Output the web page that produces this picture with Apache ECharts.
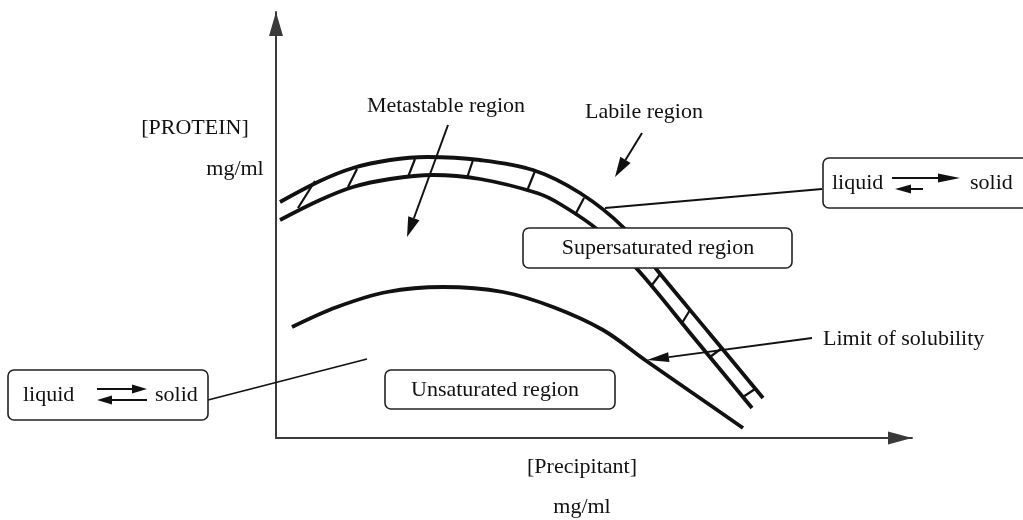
<!DOCTYPE html>
<html><head><meta charset="utf-8">
<script src="https://cdn.jsdelivr.net/npm/echarts@6/dist/echarts.min.js"></script>
<style>html,body{margin:0;padding:0;background:#fff}#c{width:1023px;height:520px}</style>
</head><body><div id="c"></div>
<script>
// ---- data (arbitrary units: precipitant along x, protein along y) ----
const supersatOuter = [[4,236],[44,257],[77,270],[114,278],[151,281],[204,278],[257,268],[304,245],[348,210],[381,168],[434,104],[487,40]];
const supersatInner = [[4,218],[44,238],[77,251],[114,259],[157,263],[204,259],[261,245],[284,234],[322,208],[362,168],[419,99],[476,30]];
const solubilityCurve = [[16,111],[61,131],[111,146],[167,151],[227,146],[277,131],[327,108],[369,78],[418,44],[467,10]];
const hatchMarks = [[22,230,39,257],[72,251,81,269],[132,261,139,279],[191,260,197,278],[251,247,259,267],[299,223,308,240],[376,153,385,165],[406,115,414,128],[434,81,446,90],[467,41,479,49]];
const pointerArrows = [[172,313,131,201],[366,305,339,261]];
const limitArrow = [[536,100,371,78]];
const connectorLines = [[546,249,329,230],[-68,38,91,79]];

const labels = {
  yTitle: '[PROTEIN]', yUnit: 'mg/ml', xTitle: '[Precipitant]', xUnit: 'mg/ml',
  metastable: 'Metastable region', labile: 'Labile region', supersat: 'Supersaturated region',
  unsat: 'Unsaturated region', limit: 'Limit of solubility', liquid: 'liquid', solid: 'solid'
};

const INK = '#111';
const FONT = '22px "Liberation Serif", "Times New Roman", serif';
function txt(text, x, y, align) {
  align = align || 'center';
  return {type:'text', z:110, style:{text:text, x:x, y:y, font:FONT, fill:INK,
    align:align, verticalAlign:'middle', textAlign:align, textVerticalAlign:'middle'}};
}
function box(x, y, w, h) {
  return {type:'rect', z:100, shape:{x:x, y:y, width:w, height:h, r:6}, style:{fill:'#fff', stroke:'#222', lineWidth:1.6}};
}
function hArrow(x1, x2, y, headLen, headW) {
  const dir = Math.sign(x2 - x1), base = x2 - dir * headLen;
  return [
    {type:'line', z:110, shape:{x1:x1, y1:y, x2:base, y2:y}, style:{stroke:INK, lineWidth:2}},
    {type:'polygon', z:110, shape:{points:[[x2,y],[base,y-headW/2],[base,y+headW/2]]}, style:{fill:INK}}
  ];
}
function arrowRender(headLen, headW, lw) {
  return function (params, api) {
    const p1 = api.coord([api.value(0), api.value(1)]);
    const p2 = api.coord([api.value(2), api.value(3)]);
    const dx = p2[0]-p1[0], dy = p2[1]-p1[1], L = Math.hypot(dx, dy), ux = dx/L, uy = dy/L;
    const bx = p2[0]-ux*headLen, by = p2[1]-uy*headLen, nx = -uy, ny = ux;
    return {type:'group', children:[
      {type:'line', shape:{x1:p1[0], y1:p1[1], x2:bx, y2:by}, style:{stroke:INK, lineWidth:lw}},
      {type:'polygon', shape:{points:[[p2[0],p2[1]],[bx+nx*headW/2, by+ny*headW/2],[bx-nx*headW/2, by-ny*headW/2]]}, style:{fill:INK}}
    ]};
  };
}
function segRender(lw) {
  return function (params, api) {
    const p1 = api.coord([api.value(0), api.value(1)]);
    const p2 = api.coord([api.value(2), api.value(3)]);
    return {type:'line', shape:{x1:p1[0], y1:p1[1], x2:p2[0], y2:p2[1]}, style:{stroke:INK, lineWidth:lw}};
  };
}

const chart = echarts.init(document.getElementById('c'), null, {renderer:'canvas'});
const axisCommon = {type:'value', axisTick:{show:false}, axisLabel:{show:false}, splitLine:{show:false}};
chart.setOption({
  animation:false,
  backgroundColor:'#fff',
  grid:{left:276, top:12, right:111, bottom:82, containLabel:false},
  xAxis:Object.assign({}, axisCommon, {min:0, max:636,
    axisLine:{show:true, lineStyle:{color:'#3a3a3a', width:2}, symbol:['none','triangle'], symbolSize:[13,24], symbolOffset:[0,-12]}}),
  yAxis:Object.assign({}, axisCommon, {min:0, max:426,
    axisLine:{show:true, lineStyle:{color:'#3a3a3a', width:2}, symbol:['none','triangle'], symbolSize:[14,24], symbolOffset:[0,-12]}}),
  series:[
    {type:'line', data:supersatOuter, smooth:0.35, symbol:'none', lineStyle:{color:INK, width:3.8}, z:3},
    {type:'line', data:supersatInner, smooth:0.35, symbol:'none', lineStyle:{color:INK, width:3.8}, z:3},
    {type:'line', data:solubilityCurve, smooth:0.35, symbol:'none', lineStyle:{color:INK, width:3.8}, z:3},
    {type:'custom', data:hatchMarks, clip:false, renderItem:segRender(2.2), z:3},
    {type:'custom', data:pointerArrows, clip:false, renderItem:arrowRender(20, 12, 2), z:4},
    {type:'custom', data:limitArrow, clip:false, renderItem:arrowRender(22, 10, 1.8), z:4},
    {type:'custom', data:connectorLines, clip:false, renderItem:segRender(1.8), z:4}
  ],
  graphic:[].concat(
    [txt(labels.yTitle, 195, 128), txt(labels.yUnit, 235, 169),
     txt(labels.xTitle, 582, 467), txt(labels.xUnit, 582, 507),
     txt(labels.metastable, 446, 106), txt(labels.labile, 644, 112),
     txt(labels.limit, 823, 339, 'left')],
    [box(523, 228, 269, 40), txt(labels.supersat, 658, 248)],
    [box(385, 370, 230, 39), txt(labels.unsat, 495, 390)],
    [box(8, 370, 200, 50), txt(labels.liquid, 23, 395, 'left'), txt(labels.solid, 155, 395, 'left')],
    hArrow(97, 147, 389, 15, 9), hArrow(147, 97, 400, 15, 9),
    [box(823, 158, 220, 50), txt(labels.liquid, 832, 183, 'left'), txt(labels.solid, 970, 183, 'left')],
    hArrow(892, 960, 178, 22, 9), hArrow(923, 895, 189, 16, 9)
  )
});
</script>
</body></html>
